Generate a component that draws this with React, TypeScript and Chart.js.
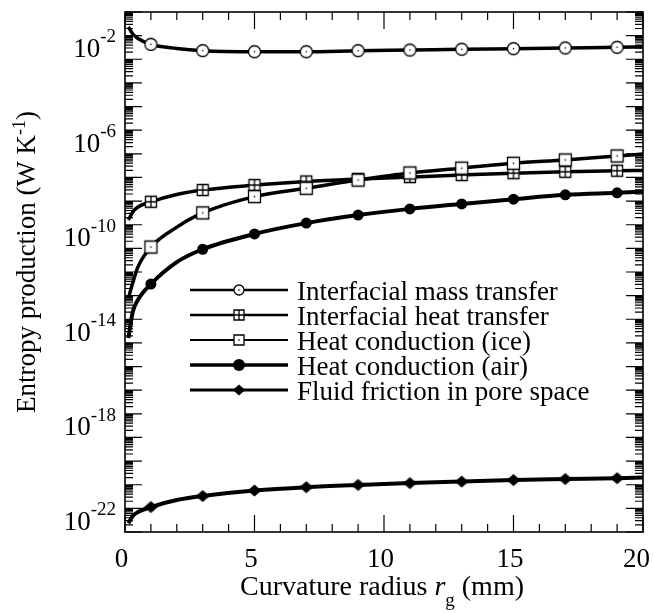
import React, { useEffect, useRef } from "react";
import { Chart, registerables } from "chart.js";

Chart.register(...registerables);

// ---------- data ----------
const radiusMm = [0.13, 0.3, 0.5, 1, 2, 3, 5, 7, 9, 11, 13, 15, 17, 19, 20];
const markerRadii = [1, 3, 5, 7, 9, 11, 13, 15, 17, 19];

const massTransfer = [7.4e-2, 3.7e-2, 2.4e-2, 1.35e-2, 9.1e-3, 7.3e-3, 6.6e-3, 6.6e-3, 7.3e-3, 7.8e-3, 8.4e-3, 8.9e-3, 9.5e-3, 1.02e-2, 1.05e-2];
const heatTransfer = [5.0e-10, 1.1e-9, 1.78e-9, 2.95e-9, 6.0e-9, 9.3e-9, 1.5e-8, 2.14e-8, 2.72e-8, 3.3e-8, 4.0e-8, 4.8e-8, 5.5e-8, 6.1e-8, 6.3e-8];
const conductionIce = [2.5e-13, 1.1e-12, 5.2e-12, 3.6e-11, 2.5e-10, 1.0e-9, 4.9e-9, 1.1e-8, 2.45e-8, 4.9e-8, 7.8e-8, 1.26e-7, 1.74e-7, 2.57e-7, 3.1e-7];
const conductionAir = [5.1e-15, 6.5e-14, 2.1e-13, 9.8e-13, 8.3e-12, 2.9e-11, 1.29e-10, 3.7e-10, 8.1e-10, 1.48e-9, 2.4e-9, 3.8e-9, 5.8e-9, 7.1e-9, 7.9e-9];
const fluidFriction = [7.4e-23, 1.5e-22, 2.2e-22, 3.6e-22, 7.1e-22, 1.05e-21, 1.8e-21, 2.5e-21, 3.1e-21, 3.7e-21, 4.3e-21, 5.0e-21, 5.5e-21, 6.0e-21, 6.4e-21];

const seriesNames = [
  "Interfacial mass transfer",
  "Interfacial heat transfer",
  "Heat conduction (ice)",
  "Heat conduction (air)",
  "Fluid friction in pore space",
];

const xTickValues = [0, 5, 10, 15, 20];
const yTickExponents = [-2, -6, -10, -14, -18, -22];

const xTitle = "Curvature radius";
const xTitleVar = "r";
const xTitleSub = "g";
const xTitleUnit = "(mm)";
const yTitleMain = "Entropy production (W K";
const yTitleSup = "-1";
const yTitleEnd = ")";

// ---------- styling ----------
const FONT = '"Liberation Serif", "Times New Roman", Times, serif';

type MarkerKind = "circleDot" | "squareCross" | "squareDot" | "disc" | "diamond";

function drawMarker(ctx: CanvasRenderingContext2D, kind: MarkerKind, x: number, y: number, s: number) {
  ctx.save();
  ctx.strokeStyle = "#000";
  ctx.fillStyle = "#fff";
  ctx.lineWidth = 1.3;
  if (kind === "circleDot") {
    ctx.beginPath();
    ctx.arc(x, y, s, 0, Math.PI * 2);
    ctx.fill();
    ctx.stroke();
    ctx.fillStyle = "#000";
    ctx.beginPath();
    ctx.arc(x, y, 0.8, 0, Math.PI * 2);
    ctx.fill();
  } else if (kind === "squareDot" || kind === "squareCross") {
    ctx.beginPath();
    ctx.rect(x - s, y - s, 2 * s, 2 * s);
    ctx.fill();
    ctx.stroke();
    if (kind === "squareDot") {
      ctx.fillStyle = "#000";
      ctx.fillRect(x - 0.7, y - 0.7, 1.4, 1.4);
    } else {
      ctx.beginPath();
      ctx.moveTo(x, y - s);
      ctx.lineTo(x, y + s);
      ctx.moveTo(x - s, y);
      ctx.lineTo(x + s, y);
      ctx.stroke();
    }
  } else if (kind === "disc") {
    ctx.fillStyle = "#000";
    ctx.beginPath();
    ctx.arc(x, y, s, 0, Math.PI * 2);
    ctx.fill();
  } else if (kind === "diamond") {
    ctx.fillStyle = "#000";
    ctx.beginPath();
    ctx.moveTo(x - s * 1.15, y);
    ctx.lineTo(x, y - s);
    ctx.lineTo(x + s * 1.15, y);
    ctx.lineTo(x, y + s);
    ctx.closePath();
    ctx.fill();
  }
  ctx.restore();
}

function markerCanvas(kind: MarkerKind, s: number): HTMLCanvasElement {
  const c = document.createElement("canvas");
  const size = Math.ceil(2 * s * 1.2 + 4);
  c.width = size;
  c.height = size;
  const ctx = c.getContext("2d")!;
  drawMarker(ctx, kind, size / 2, size / 2, s);
  return c;
}

const seriesKinds: MarkerKind[] = ["circleDot", "squareCross", "squareDot", "disc", "diamond"];
const plotMarkerSize = [6, 5.5, 6, 5.5, 6];
const legendMarkerSize = [5, 5, 5, 6, 5.5];
const plotLineWidth = [3.5, 3.5, 3.5, 4, 4];
const legendLineWidth = [2.6, 2.6, 2, 3.5, 3];

const customPlugin = {
  id: "customAxesLegend",
  afterDraw(chart: any) {
    const ctx: CanvasRenderingContext2D = chart.ctx;
    const { left, right, top, bottom } = chart.chartArea;
    const xs = chart.scales.x;
    const ys = chart.scales.y;
    ctx.save();
    ctx.strokeStyle = "#000";
    ctx.fillStyle = "#000";

    // frame
    ctx.lineWidth = 1.6;
    ctx.strokeRect(left, top, right - left, bottom - top);

    // ticks
    ctx.lineWidth = 1.2;
    ctx.beginPath();
    for (let v = 0; v <= 20; v++) {
      const px = xs.getPixelForValue(v);
      const len = v % 5 === 0 ? 17 : 8;
      ctx.moveTo(px, bottom);
      ctx.lineTo(px, bottom - len);
      ctx.moveTo(px, top);
      ctx.lineTo(px, top + len);
    }
    for (let k = 0; k <= 22; k++) {
      const py = ys.getPixelForValue(Math.pow(10, -0.5 - k));
      ctx.moveTo(left, py);
      ctx.lineTo(left + 17, py);
      ctx.moveTo(right, py);
      ctx.lineTo(right - 17, py);
      if (k < 22) {
        const base = Math.pow(10, -1.5 - k);
        for (let m = 2; m <= 9; m++) {
          const p = ys.getPixelForValue(m * base);
          ctx.moveTo(left, p);
          ctx.lineTo(left + 8, p);
          ctx.moveTo(right, p);
          ctx.lineTo(right - 8, p);
        }
      }
    }
    ctx.stroke();

    // y tick labels (10 with superscript exponent)
    ctx.textBaseline = "alphabetic";
    ctx.textAlign = "left";
    for (const e of yTickExponents) {
      const py = ys.getPixelForValue(Math.pow(10, e));
      ctx.font = `19px ${FONT}`;
      const sup = String(e);
      const ws = ctx.measureText(sup).width;
      const supX = 116 - ws;
      ctx.fillText(sup, supX, py - 5);
      ctx.font = `27px ${FONT}`;
      const wm = ctx.measureText("10").width;
      ctx.fillText("10", supX - wm, py + 9.5);
    }

    // x tick labels
    ctx.font = `27px ${FONT}`;
    for (const v of xTickValues) {
      const px = xs.getPixelForValue(v);
      const label = String(v);
      const w = ctx.measureText(label).width;
      let x0 = px - 3.5 - w / 2;
      if (x0 + w > 650) x0 = 650 - w;
      ctx.fillText(label, x0, 567);
    }

    // x title
    ctx.font = `28px ${FONT}`;
    const w1 = ctx.measureText(xTitle + " ").width;
    ctx.font = `italic 28px ${FONT}`;
    const wr = ctx.measureText(xTitleVar).width;
    ctx.font = `19px ${FONT}`;
    const wg = ctx.measureText(xTitleSub).width;
    ctx.font = `28px ${FONT}`;
    const wsp = ctx.measureText(" ").width;
    const wu = ctx.measureText(xTitleUnit).width;
    const total = w1 + wr + wg + wsp + wu;
    let cx = (left + right) / 2 - 2 - total / 2;
    const base = 595;
    ctx.fillText(xTitle, cx, base);
    cx += w1;
    ctx.font = `italic 28px ${FONT}`;
    ctx.fillText(xTitleVar, cx, base);
    cx += wr;
    ctx.font = `19px ${FONT}`;
    ctx.fillText(xTitleSub, cx, base + 11);
    cx += wg + wsp;
    ctx.font = `28px ${FONT}`;
    ctx.fillText(xTitleUnit, cx, base);

    // y title (rotated)
    ctx.save();
    ctx.translate(35, 262);
    ctx.rotate(-Math.PI / 2);
    ctx.font = `27px ${FONT}`;
    const a = ctx.measureText(yTitleMain).width;
    const c2 = ctx.measureText(yTitleEnd).width;
    ctx.font = `18px ${FONT}`;
    const b = ctx.measureText(yTitleSup).width;
    let tx = -(a + b + c2) / 2;
    ctx.font = `27px ${FONT}`;
    ctx.fillText(yTitleMain, tx, 0);
    tx += a;
    ctx.font = `18px ${FONT}`;
    ctx.fillText(yTitleSup, tx, -10);
    tx += b;
    ctx.font = `27px ${FONT}`;
    ctx.fillText(yTitleEnd, tx, 0);
    ctx.restore();

    // legend
    const rowY = [290, 315, 340, 365, 390];
    for (let i = 0; i < seriesNames.length; i++) {
      const y = rowY[i];
      ctx.lineWidth = legendLineWidth[i];
      ctx.beginPath();
      ctx.moveTo(190, y);
      ctx.lineTo(288, y);
      ctx.stroke();
      drawMarker(ctx, seriesKinds[i], 239, y, legendMarkerSize[i]);
      ctx.fillStyle = "#000";
      ctx.font = `27px ${FONT}`;
      ctx.fillText(seriesNames[i], 297, y + 9.5);
    }
    ctx.restore();
  },
};

export default function App() {
  const ref = useRef<HTMLCanvasElement>(null);
  useEffect(() => {
    const canvas = ref.current!;
    const seriesValues = [massTransfer, heatTransfer, conductionIce, conductionAir, fluidFriction];
    const order = [0, 2, 1, 3, 4];
    const datasets = seriesValues.map((vals, i) => {
      const kind = seriesKinds[i];
      const style: any =
        kind === "disc" ? "circle" : kind === "diamond" ? markerCanvas("diamond", plotMarkerSize[i]) : markerCanvas(kind, plotMarkerSize[i]);
      return {
        label: seriesNames[i],
        data: radiusMm.map((x, j) => ({ x, y: vals[j] })),
        borderColor: "#000",
        backgroundColor: "#000",
        borderWidth: plotLineWidth[i],
        cubicInterpolationMode: "monotone" as const,
        pointStyle: style,
        pointBackgroundColor: "#000",
        pointBorderColor: "#000",
        pointBorderWidth: 0,
        pointRadius: (c: any) => (markerRadii.includes(radiusMm[c.dataIndex]) ? plotMarkerSize[i] : 0),
        order: order[i],
        clip: false as const,
      };
    });
    const chart = new Chart(canvas, {
      type: "line",
      data: { datasets },
      options: {
        animation: false,
        responsive: false,
        devicePixelRatio: 1,
        events: [],
        layout: { padding: { top: 12, right: 10, left: 0, bottom: 0 } },
        plugins: { legend: { display: false }, tooltip: { enabled: false } },
        scales: {
          x: {
            type: "linear",
            min: 0,
            max: 20,
            grid: { display: false, drawTicks: false },
            border: { display: false },
            ticks: { display: false },
            afterFit: (s: any) => {
              s.height = 81;
            },
          },
          y: {
            type: "logarithmic",
            min: Math.pow(10, -22.5),
            max: Math.pow(10, -0.5),
            grid: { display: false, drawTicks: false },
            border: { display: false },
            ticks: { display: false },
            afterFit: (s: any) => {
              s.width = 125;
            },
          },
        },
      },
      plugins: [customPlugin],
    });
    return () => chart.destroy();
  }, []);
  return (
    <div style={{ position: "fixed", left: 0, top: 0, width: 653, height: 613, background: "#fff" }}>
      <canvas ref={ref} width={653} height={613} style={{ display: "block", width: 653, height: 613 }} />
    </div>
  );
}
